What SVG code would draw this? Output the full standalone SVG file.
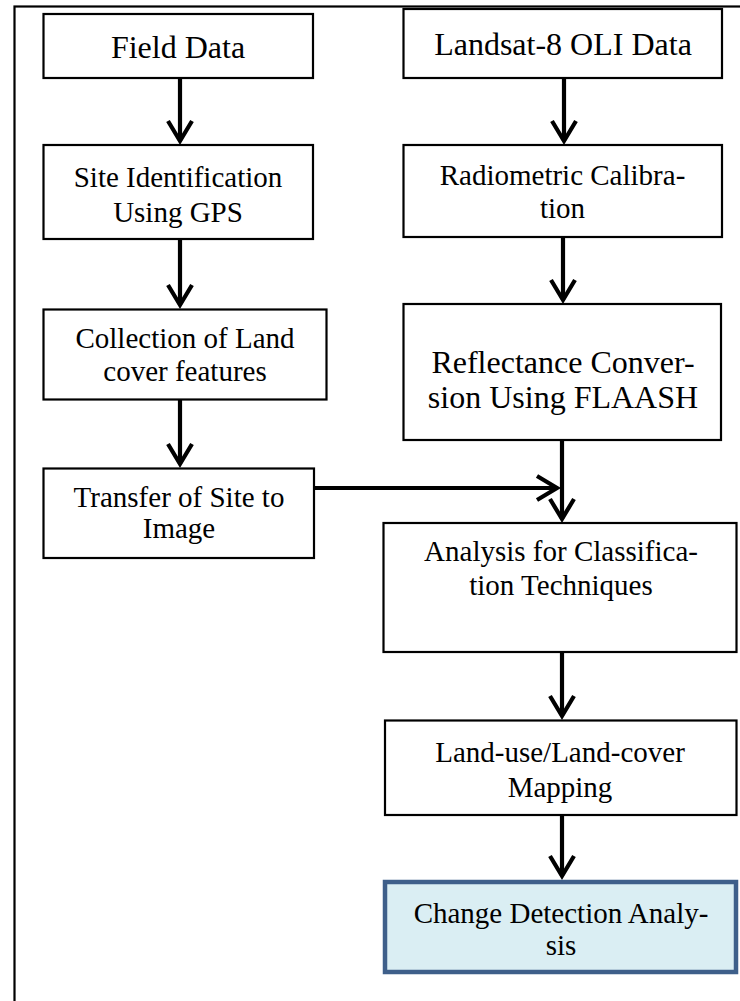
<svg xmlns="http://www.w3.org/2000/svg" width="740" height="1001" viewBox="0 0 740 1001">
<style>
.box{fill:#fff;stroke:#000;stroke-width:2.2}
.final{fill:#DAEEF3;stroke:#3E5F8A;stroke-width:4.5}
.t{font-family:"Liberation Serif","Times New Roman",serif;font-size:29px;fill:#000;text-anchor:middle}
.big{font-size:32px}
.c{fill:none;stroke:#000;stroke-width:4.2}
.frame{fill:none;stroke:#000;stroke-width:2.2}
</style>
<defs>
<marker id="chev" markerUnits="userSpaceOnUse" markerWidth="32" markerHeight="32" viewBox="0 0 32 32" refX="22" refY="16" orient="auto" overflow="visible">
<path d="M 2 4 L 22 16 L 2 28" fill="none" stroke="#000" stroke-width="4.2"/>
</marker>
</defs>
<rect class="frame" x="14.5" y="6.5" width="740" height="1010"/>
<g id="connectors">
<line class="c" x1="180" y1="78" x2="180" y2="141" marker-end="url(#chev)"/>
<line class="c" x1="180" y1="239" x2="180" y2="305" marker-end="url(#chev)"/>
<line class="c" x1="180" y1="399" x2="180" y2="464" marker-end="url(#chev)"/>
<line class="c" x1="564" y1="78" x2="564" y2="141" marker-end="url(#chev)"/>
<line class="c" x1="563" y1="237" x2="563" y2="300" marker-end="url(#chev)"/>
<line class="c" x1="562" y1="440" x2="562" y2="519" marker-end="url(#chev)"/>
<line class="c" x1="314" y1="488" x2="557" y2="488" marker-end="url(#chev)"/>
<line class="c" x1="562" y1="652" x2="562" y2="716" marker-end="url(#chev)"/>
<line class="c" x1="562" y1="815" x2="562" y2="876" marker-end="url(#chev)"/>
</g>
<g id="field-data">
<rect class="box" x="43.5" y="14" width="269.5" height="64"/>
<text class="t big" x="178" y="58">Field Data</text>
</g>
<g id="site-identification">
<rect class="box" x="43.5" y="145" width="269.5" height="94"/>
<text class="t" x="178" y="187">Site Identification</text>
<text class="t" x="178" y="222">Using GPS</text>
</g>
<g id="collection">
<rect class="box" x="43.5" y="309.5" width="283" height="90"/>
<text class="t" x="185" y="348">Collection of Land</text>
<text class="t" x="185" y="381">cover features</text>
</g>
<g id="transfer">
<rect class="box" x="43.5" y="468.5" width="270.5" height="89.5"/>
<text class="t" x="179" y="507">Transfer of Site to</text>
<text class="t" x="179" y="538">Image</text>
</g>
<g id="landsat">
<rect class="box" x="403.5" y="9" width="318.5" height="69"/>
<text class="t big" x="563" y="55">Landsat-8 OLI Data</text>
</g>
<g id="radiometric">
<rect class="box" x="403.5" y="145" width="318.5" height="92"/>
<text class="t" x="562.5" y="185">Radiometric Calibra-</text>
<text class="t" x="562.5" y="218">tion</text>
</g>
<g id="reflectance">
<rect class="box" x="403.5" y="304" width="317.5" height="136"/>
<text class="t big" x="563" y="373">Reflectance Conver-</text>
<text class="t big" x="563" y="408">sion Using FLAASH</text>
</g>
<g id="analysis">
<rect class="box" x="383.5" y="523" width="353" height="129"/>
<text class="t" x="561" y="561">Analysis for Classifica-</text>
<text class="t" x="561" y="595">tion Techniques</text>
</g>
<g id="landuse">
<rect class="box" x="385" y="720.5" width="351.5" height="94.5"/>
<text class="t" x="560" y="762">Land-use/Land-cover</text>
<text class="t" x="560" y="797">Mapping</text>
</g>
<g id="change-detection">
<rect class="final" x="385" y="882" width="351" height="90"/>
<text class="t" x="561" y="923">Change Detection Analy-</text>
<text class="t" x="561" y="955">sis</text>
</g>
</svg>
